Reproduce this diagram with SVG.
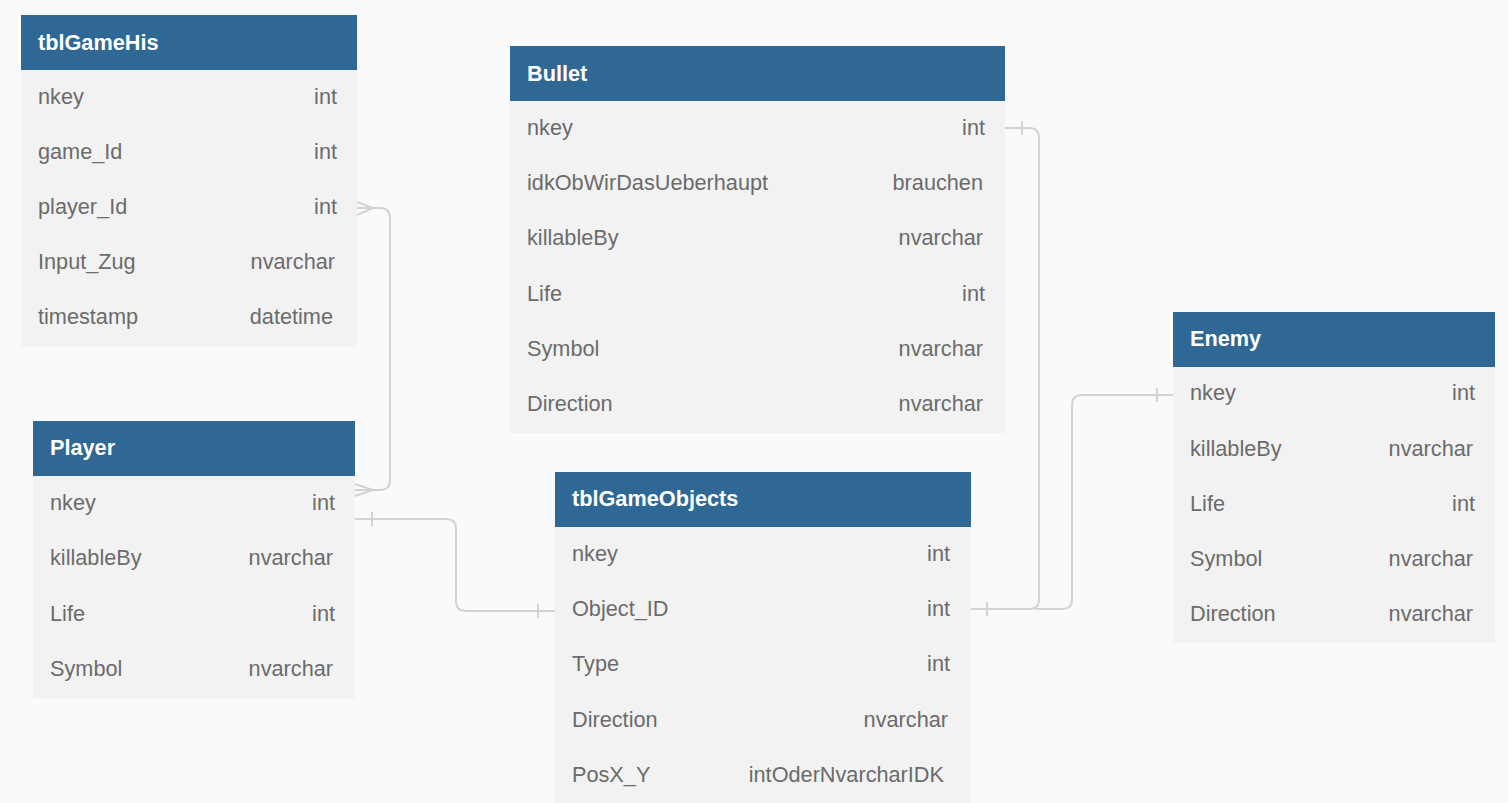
<svg xmlns="http://www.w3.org/2000/svg" width="1508" height="803" viewBox="0 0 1508 803">
<style>
.bg{fill:#fafafa}
.hd{fill:#2f6894}
.bd{fill:#f2f2f2}
.tt{font-family:"Liberation Sans",Arial,sans-serif;font-size:21.7px;font-weight:bold;fill:#ffffff}
.fn{font-family:"Liberation Sans",Arial,sans-serif;font-size:21.7px;fill:#6b6b6b}
.ty{font-family:"Liberation Sans",Arial,sans-serif;font-size:21.7px;fill:#6b6b6b;text-anchor:end}
.cn{fill:none;stroke:#d3d3d3;stroke-width:2}
</style>
<rect class="bg" x="0" y="0" width="1508" height="803"/>

<g id="connectors">
<path class="cn" d="M357,208 H380 Q390,208 390,218 V480 Q390,490 380,490 H355"/>
<path class="cn" d="M357,202 L373,208 L357,215"/>
<path class="cn" d="M355,484 L373,490 L355,496"/>

<path class="cn" d="M355,519 H446 Q456,519 456,529 V601 Q456,611 466,611 H555"/>
<path class="cn" d="M372,512 V526"/>
<path class="cn" d="M538,604 V618"/>

<path class="cn" d="M1005,128 H1029 Q1039,128 1039,138 V599 Q1039,609 1029,609 H971"/>
<path class="cn" d="M1022,121 V135"/>
<path class="cn" d="M987,602 V616"/>

<path class="cn" d="M1173,395 H1082 Q1072,395 1072,405 V599 Q1072,609 1062,609 H1035"/>
<path class="cn" d="M1157,388 V402"/>
</g>

<g id="tblGameHis">
<rect class="bd" x="21" y="15" width="336" height="332"/>
<rect class="hd" x="21" y="15" width="336" height="55"/>
<text class="tt" x="38" y="50">tblGameHis</text>
<text class="fn" x="38" y="104">nkey</text><text class="ty" x="337" y="104">int</text>
<text class="fn" x="38" y="159">game_Id</text><text class="ty" x="337" y="159">int</text>
<text class="fn" x="38" y="214">player_Id</text><text class="ty" x="337" y="214">int</text>
<text class="fn" x="38" y="269">Input_Zug</text><text class="ty" x="335" y="269">nvarchar</text>
<text class="fn" x="38" y="324">timestamp</text><text class="ty" x="333" y="324">datetime</text>
</g>

<g id="Bullet">
<rect class="bd" x="510" y="46" width="495" height="387"/>
<rect class="hd" x="510" y="46" width="495" height="55"/>
<text class="tt" x="527" y="81">Bullet</text>
<text class="fn" x="527" y="135">nkey</text><text class="ty" x="985" y="135">int</text>
<text class="fn" x="527" y="190">idkObWirDasUeberhaupt</text><text class="ty" x="983" y="190">brauchen</text>
<text class="fn" x="527" y="245">killableBy</text><text class="ty" x="983" y="245">nvarchar</text>
<text class="fn" x="527" y="301">Life</text><text class="ty" x="985" y="301">int</text>
<text class="fn" x="527" y="356">Symbol</text><text class="ty" x="983" y="356">nvarchar</text>
<text class="fn" x="527" y="411">Direction</text><text class="ty" x="983" y="411">nvarchar</text>
</g>

<g id="Enemy">
<rect class="bd" x="1173" y="312" width="322" height="331"/>
<rect class="hd" x="1173" y="312" width="322" height="55"/>
<text class="tt" x="1190" y="346">Enemy</text>
<text class="fn" x="1190" y="400">nkey</text><text class="ty" x="1475" y="400">int</text>
<text class="fn" x="1190" y="456">killableBy</text><text class="ty" x="1473" y="456">nvarchar</text>
<text class="fn" x="1190" y="511">Life</text><text class="ty" x="1475" y="511">int</text>
<text class="fn" x="1190" y="566">Symbol</text><text class="ty" x="1473" y="566">nvarchar</text>
<text class="fn" x="1190" y="621">Direction</text><text class="ty" x="1473" y="621">nvarchar</text>
</g>

<g id="Player">
<rect class="bd" x="33" y="421" width="322" height="277"/>
<rect class="hd" x="33" y="421" width="322" height="55"/>
<text class="tt" x="50" y="455">Player</text>
<text class="fn" x="50" y="510">nkey</text><text class="ty" x="335" y="510">int</text>
<text class="fn" x="50" y="565">killableBy</text><text class="ty" x="333" y="565">nvarchar</text>
<text class="fn" x="50" y="621">Life</text><text class="ty" x="335" y="621">int</text>
<text class="fn" x="50" y="676">Symbol</text><text class="ty" x="333" y="676">nvarchar</text>
</g>

<g id="tblGameObjects">
<rect class="bd" x="555" y="472" width="416" height="332"/>
<rect class="hd" x="555" y="472" width="416" height="55"/>
<text class="tt" x="572" y="506">tblGameObjects</text>
<text class="fn" x="572" y="561">nkey</text><text class="ty" x="950" y="561">int</text>
<text class="fn" x="572" y="616">Object_ID</text><text class="ty" x="950" y="616">int</text>
<text class="fn" x="572" y="671">Type</text><text class="ty" x="950" y="671">int</text>
<text class="fn" x="572" y="727">Direction</text><text class="ty" x="948" y="727">nvarchar</text>
<text class="fn" x="572" y="782">PosX_Y</text><text class="ty" x="944" y="782">intOderNvarcharIDK</text>
</g>
</svg>
